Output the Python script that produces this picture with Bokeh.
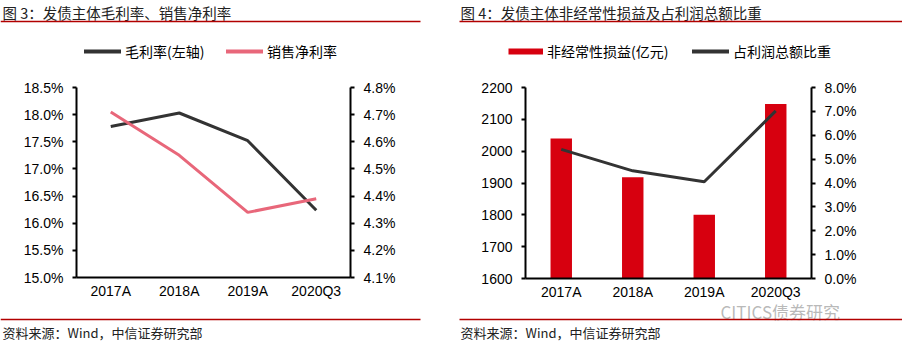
from bokeh.plotting import figure
from bokeh.models import (Range1d, LinearAxis, FixedTicker, PrintfTickFormatter,
                          Legend, LegendItem, Label, BoxAnnotation)
from bokeh.layouts import row, column
from bokeh.embed import file_html
from bokeh.resources import INLINE

# ---------------- data ----------------
categories = ["2017A", "2018A", "2019A", "2020Q3"]
gross_margin = [17.78, 18.03, 17.52, 16.24]      # 毛利率 (%), left axis
net_margin = [4.71, 4.55, 4.34, 4.39]            # 销售净利率 (%), right axis
nonrecurring = [2040, 1918, 1800, 2148]          # 非经常性损益 (亿元)
share_of_profit = [5.41, 4.51, 4.05, 7.02]       # 占利润总额比重 (%)

left_ticks = [15.0, 15.5, 16.0, 16.5, 17.0, 17.5, 18.0, 18.5]
left_right_ticks = [4.1, 4.2, 4.3, 4.4, 4.5, 4.6, 4.7, 4.8]
right_ticks = [1600, 1700, 1800, 1900, 2000, 2100, 2200]
right_right_ticks = [0, 1, 2, 3, 4, 5, 6, 7, 8]

title_left = "图 3：发债主体毛利率、销售净利率"
title_right = "图 4：发债主体非经常性损益及占利润总额比重"
source_text = "资料来源：Wind，中信证券研究部"
legend_labels = ["毛利率(左轴)", "销售净利率", "非经常性损益(亿元)", "占利润总额比重"]
watermark = "CITICS债券研究"

LATIN = "Liberation Sans"
CJK = "Noto Sans CJK SC"
DARK = "#333333"
PINK = "#E8677A"
RED = "#D7000F"
RULE = "#B20000"


def blank_fig(w, h):
    f = figure(width=w, height=h, x_range=Range1d(0, w), y_range=Range1d(h, 0),
               x_axis_type=None, y_axis_type=None, min_border=0,
               output_backend="svg", toolbar_location=None,
               background_fill_color="white", border_fill_color="white")
    f.outline_line_color = None
    f.xgrid.grid_line_color = None
    f.ygrid.grid_line_color = None
    return f


def style_axis(ax, ticks, fmt):
    ax.ticker = FixedTicker(ticks=ticks)
    ax.formatter = PrintfTickFormatter(format=fmt)
    ax.axis_line_color = "black"
    ax.axis_line_width = 2
    ax.major_tick_line_color = "black"
    ax.major_tick_line_width = 2
    ax.major_tick_out = 4
    ax.major_tick_in = 0
    ax.minor_tick_line_color = None
    ax.minor_tick_out = 0
    ax.minor_tick_in = 0
    ax.major_label_text_font = LATIN
    ax.major_label_text_font_size = "14px"
    ax.major_label_text_color = "black"
    ax.major_label_standoff = 9


def make_fig(fw, fh, bl, br, bt, bb, y0, y1, y2a, y2b):
    p = figure(x_range=categories, y_range=Range1d(y0, y1),
               frame_width=fw, frame_height=fh,
               min_border_left=bl, min_border_right=br,
               min_border_top=bt, min_border_bottom=bb,
               output_backend="svg", toolbar_location=None,
               background_fill_color="white", border_fill_color="white")
    p.outline_line_color = None
    p.xgrid.grid_line_color = None
    p.ygrid.grid_line_color = None
    p.extra_y_ranges = {"r": Range1d(y2a, y2b)}
    xa = p.xaxis[0]
    xa.axis_line_color = "black"
    xa.axis_line_width = 2
    xa.major_tick_line_color = None
    xa.minor_tick_line_color = None
    xa.major_tick_out = 0
    xa.major_tick_in = 0
    xa.minor_tick_out = 0
    xa.minor_tick_in = 0
    xa.major_label_text_font = LATIN
    xa.major_label_text_font_size = "14px"
    xa.major_label_text_color = "black"
    xa.major_label_standoff = 5
    return p


# ---------------- header (titles, rules, legends) ----------------
head = blank_fig(902, 70)
for tx, t in [(2, title_left), (460, title_right)]:
    head.add_layout(Label(x=tx, y=12, text=t, text_font=CJK, text_font_size="14.5px",
                          text_color="#222222", text_baseline="middle"))
for x0, x1 in [(0, 420), (459, 902)]:
    head.add_layout(BoxAnnotation(left=x0, right=x1, top=20.3, bottom=21.8,
                                  fill_color=RULE, fill_alpha=1, line_color=None))

dummy_styles = [dict(line_color=DARK, line_width=4, line_cap="round"),
                dict(line_color=PINK, line_width=4, line_cap="round"),
                dict(line_color=RED, line_width=6, line_cap="butt"),
                dict(line_color=DARK, line_width=4, line_cap="round")]
legend_x = [84, 226, 508, 692]
glyph_w = [37, 37, 35, 37]
for lab, st, lx, gw in zip(legend_labels, dummy_styles, legend_x, glyph_w):
    # legend proxy renderer, placed outside the visible range
    r = head.line(x=[0, 1], y=[-50, -50], **st)
    head.add_layout(Legend(items=[LegendItem(label=lab, renderers=[r])],
                           location=(lx, 9), orientation="horizontal",
                           glyph_width=gw, glyph_height=16, label_standoff=4,
                           padding=0, margin=0, border_line_color=None,
                           background_fill_alpha=0, label_text_font=CJK,
                           label_text_font_size="14px", label_text_color="black",
                           label_height=16))

# ---------------- left panel ----------------
p1 = make_fig(274, 190, 76, 101, 17, 23, 15.0, 18.5, 4.1, 4.8)
style_axis(p1.yaxis[0], left_ticks, "%.1f%%")
ax_r1 = LinearAxis(y_range_name="r")
style_axis(ax_r1, left_right_ticks, "%.1f%%")
p1.add_layout(ax_r1, "right")
p1.line(categories, gross_margin, line_color=DARK, line_width=3)
p1.line(categories, net_margin, y_range_name="r", line_color=PINK, line_width=3)

# ---------------- right panel ----------------
p2 = make_fig(286, 191, 74, 91, 17, 22, 1600, 2200, 0, 8)
style_axis(p2.yaxis[0], right_ticks, "%d")
ax_r2 = LinearAxis(y_range_name="r")
style_axis(ax_r2, right_right_ticks, "%.1f%%")
p2.add_layout(ax_r2, "right")
p2.vbar(x=categories, top=nonrecurring, bottom=1600, width=0.3,
        fill_color=RED, line_color=None)
p2.line(categories, share_of_profit, y_range_name="r", line_color=DARK, line_width=3)

# ---------------- footer (watermark, rules, sources) ----------------
foot = blank_fig(902, 41)
foot.add_layout(Label(x=720, y=9, text=watermark, text_font=CJK, text_font_size="17px",
                      text_color="#9a9a9a", text_alpha=0.7, text_baseline="middle"))
for x0, x1 in [(0, 420), (459, 902)]:
    foot.add_layout(BoxAnnotation(left=x0, right=x1, top=16.3, bottom=17.8,
                                  fill_color=RULE, fill_alpha=1, line_color=None))
for tx in [2, 460]:
    foot.add_layout(Label(x=tx, y=30, text=source_text, text_font=CJK,
                          text_font_size="13px", text_color="#222222",
                          text_baseline="middle"))

layout = column(head, row(p1, p2, spacing=0), foot, spacing=0)
open("out.html", "w").write(file_html(layout, INLINE))
